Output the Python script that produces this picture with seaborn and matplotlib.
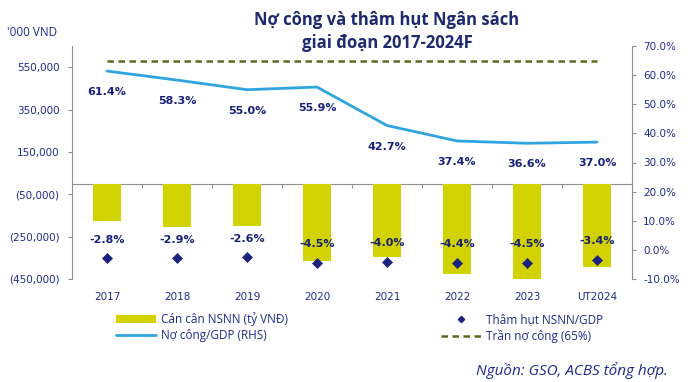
import numpy as np
import pandas as pd
import seaborn as sns
import matplotlib.pyplot as plt
from matplotlib.ticker import FuncFormatter, FixedLocator, NullFormatter
from matplotlib.lines import Line2D
from matplotlib.patches import Patch

# --------------------------------------------------
# Data
# --------------------------------------------------
years = ["2017", "2018", "2019", "2020", "2021", "2022", "2023", "UT2024"]
budget_balance = [-178000, -206000, -200000, -365000, -346000, -425000, -455000, -392000]  # ty VND
deficit_gdp = [-2.8, -2.9, -2.6, -4.5, -4.0, -4.4, -4.5, -3.4]  # %
debt_gdp = [61.4, 58.3, 55.0, 55.9, 42.7, 37.4, 36.6, 37.0]  # %
debt_ceiling = 65.0  # %

legend_labels = ["Cán cân NSNN (tỷ VNĐ)", "Nợ công/GDP (RHS)",
                 "Thâm hụt NSNN/GDP", "Trần nợ công (65%)"]

BAR = "#d2d200"
BLUE = "#2fa4e0"
OLIVE = "#5b6a1f"
NAVY = "#1b237e"
TICK = "#1e2a8c"
LABEL = "#17207a"
TITLE = "#1d2a6e"
GRAY = "#8f8f8f"

sns.set_theme(style="white")
plt.rcParams["font.family"] = ["DejaVu Sans"]
TXT_FONT = ["Open Sans", "DejaVu Sans"]

df = pd.DataFrame({
    "Year": years,
    "Balance": budget_balance,
    "Deficit": deficit_gdp,
    "Debt": debt_gdp,
})
df["Ceiling"] = debt_ceiling
df["pos"] = np.arange(len(df))

W, H = 690, 382
fig = plt.figure(figsize=(W / 100, H / 100), dpi=100)
ax = fig.add_axes([72 / W, 1 - 279 / H, (632 - 72) / W, (279 - 46) / H])

# bars on the left axis
sns.barplot(data=df, x="Year", y="Balance", color=BAR, saturation=1,
            width=0.41, edgecolor="none", ax=ax)
ylo, yhi = -450000, 650000
ax.set_ylim(ylo, yhi)
ax.set_xlim(-0.5, len(years) - 0.5)
ax.yaxis.set_major_locator(FixedLocator(np.arange(-450000, 600000, 200000)))
ax.yaxis.set_major_formatter(FuncFormatter(
    lambda v, p: f"({abs(v):,.0f})" if v < 0 else f"{v:,.0f}"))
ax.set_xlabel("")
ax.set_ylabel("")

for s in ["top", "right", "bottom"]:
    ax.spines[s].set_visible(False)
ax.spines["left"].set_color(GRAY)
ax.spines["left"].set_linewidth(0.8)
ax.tick_params(axis="y", left=True, length=2.6, width=0.8, color=GRAY,
               pad=6.5, labelsize=7.5, labelcolor=TICK)
ax.tick_params(axis="x", bottom=False, length=0, pad=9.5, labelsize=7.5,
               labelcolor=TICK)

# zero line with category boundary ticks
zero = ax.secondary_xaxis((0 - ylo) / (yhi - ylo))
zero.xaxis.set_major_locator(FixedLocator(np.arange(len(years) - 1) + 0.5))
zero.xaxis.set_major_formatter(NullFormatter())
zero.tick_params(axis="x", direction="out", length=2.6, width=0.8, color=GRAY)
zero.spines["bottom"].set_color(GRAY)
zero.spines["bottom"].set_linewidth(0.8)

# lines and markers on the right axis
ax2 = ax.twinx()
sns.lineplot(data=df, x="pos", y="Debt", color=BLUE, lw=2.0, ax=ax2)
sns.lineplot(data=df, x="pos", y="Ceiling", color=OLIVE, lw=1.8,
             linestyle=(0, (2.6, 1.8)), ax=ax2)
sns.scatterplot(data=df, x="pos", y="Deficit", marker="D", s=26, color=NAVY,
                edgecolor=NAVY, linewidth=0.5, zorder=5, ax=ax2)
ax2.set_ylim(-10, 70)
ax2.yaxis.set_major_locator(FixedLocator(np.arange(-10, 71, 10)))
ax2.yaxis.set_major_formatter(FuncFormatter(lambda v, p: f"{v:.1f}%"))
ax2.set_xlabel("")
ax2.set_ylabel("")
for s in ["top", "left", "bottom"]:
    ax2.spines[s].set_visible(False)
ax2.spines["right"].set_color(GRAY)
ax2.spines["right"].set_linewidth(0.8)
ax2.tick_params(axis="y", right=True, length=2.6, width=0.8, color=GRAY,
                pad=5.5, labelsize=7.5, labelcolor=TICK)
ax2.grid(False)
ax.grid(False)

# data labels
for i, v in enumerate(debt_gdp):
    ax2.annotate(f"{v:.1f}%", (i, v), xytext=(0, -21), textcoords="offset pixels",
                 ha="center", va="center", fontsize=8, fontweight="bold", color=LABEL)
for i, v in enumerate(deficit_gdp):
    ax2.annotate(f"{v:.1f}%", (i, v), xytext=(0, 18.5), textcoords="offset pixels",
                 ha="center", va="center", fontsize=8, fontweight="bold", color=LABEL,
                 zorder=6)

# titles and notes
fig.text(387 / W, 1 - 25 / H, "Nợ công và thâm hụt Ngân sách", ha="center",
         va="baseline", fontsize=12, fontweight="bold", color=TITLE, family=TXT_FONT)
fig.text(387 / W, 1 - 48 / H, "giai đoạn 2017-2024F", ha="center",
         va="baseline", fontsize=12, fontweight="bold", color=TITLE, family=TXT_FONT)
fig.text(7 / W, 1 - 33 / H, "'000 VND", ha="left", va="center", fontsize=8.5,
         color=TICK, family=TXT_FONT)
fig.text(668 / W, 1 - 371 / H, "Nguồn: GSO, ACBS tổng hợp.", ha="right", va="center",
         fontsize=11, style="italic", color=TICK, family=TXT_FONT)

# legend
handles = [
    Patch(facecolor=BAR, edgecolor="none"),
    Line2D([], [], color=BLUE, lw=2.0),
    Line2D([], [], color=NAVY, marker="D", markersize=3.2, linestyle="none"),
    Line2D([], [], color=OLIVE, lw=1.8, linestyle=(0, (2.6, 1.8))),
]
fig.legend(handles, legend_labels, ncol=2, loc="upper left",
           bbox_to_anchor=(116 / W, 1 - 312 / H), frameon=False, borderpad=0,
           borderaxespad=0, handlelength=3.4, handletextpad=0.45, columnspacing=12.9,
           labelspacing=0.3, labelcolor=TICK,
           prop={"family": TXT_FONT, "size": 8.5})

fig.savefig("out.png", dpi=100)
